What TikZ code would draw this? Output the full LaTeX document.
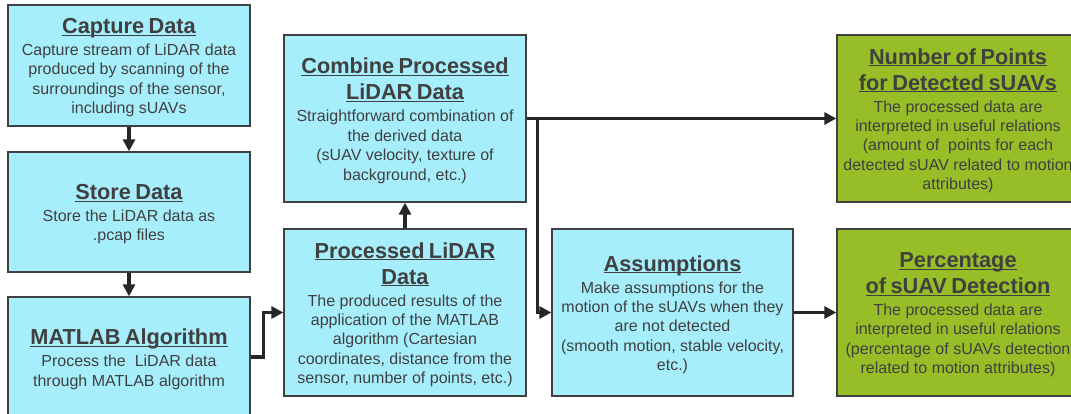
\documentclass[tikz,border=0pt]{standalone}
\usepackage{fontspec}
\setmainfont{Liberation Sans}
\usetikzlibrary{arrows.meta,calc}
\definecolor{boxcyan}{HTML}{A6EEFB}
\definecolor{boxgreen}{HTML}{97BD27}
\definecolor{ink}{HTML}{404040}
\definecolor{arrowc}{HTML}{262626}
\newcommand\hdl[1]{\leavevmode\setbox0=\hbox{#1}\rlap{\rule[-1.7pt]{\wd0}{0.9pt}}\box0}
\newcommand\hdfont{\fontsize{16.3}{19.5}\selectfont\bfseries}
\newcommand\bdfont{\fontsize{12}{14.6}\selectfont}
\newcommand\boxtext[2]{{\hdfont #1\par}\vspace{1.8pt}{\bdfont #2\par}\vspace{-3.5pt}}
\tikzset{
  flow/.style={draw=ink, line width=1pt, text=ink, align=center, text width=176pt,
    inner sep=2pt, minimum width=181.5pt},
  cyanbox/.style={flow, fill=boxcyan},
  greenbox/.style={flow, fill=boxgreen},
  arr/.style={draw=arrowc, line width=2.3pt, -{Triangle[length=9pt,width=9pt]}},
}
\begin{document}
\begin{tikzpicture}[x=0.75pt, y=-0.75pt]
\useasboundingbox (0,0) rectangle (1071,414);
\fill[white] (0,0) rectangle (1071,414);
\clip (0,0) rectangle (1071,414);

\node[cyanbox, minimum height=90.75pt] (A) at (129,65.5)
  {\boxtext{\hdl{Capture Data}}{Capture stream of LiDAR data\\produced by scanning of the\\surroundings of the sensor,\\including sUAVs}};
\node[cyanbox, minimum height=90pt] (B) at (129,212)
  {\boxtext{\hdl{Store Data}}{Store the LiDAR data as\\.pcap files}};
\node[cyanbox, minimum height=90pt] (C) at (129,357)
  {\boxtext{\hdl{MATLAB Algorithm}}{Process the\ \ LiDAR data\\through MATLAB algorithm}};
\node[cyanbox, minimum height=125.25pt] (E) at (405,118.5)
  {\boxtext{\hdl{Combine Processed}\\\hdl{LiDAR Data}}{Straightforward combination of\\the derived data\\(sUAV velocity, texture of\\background, etc.)}};
\node[cyanbox, minimum height=125.25pt] (D) at (405,312.5)
  {\boxtext{\hdl{Processed LiDAR}\\\hdl{Data}}{The produced results of the\\application of the MATLAB\\algorithm (Cartesian\\coordinates, distance from the\\sensor, number of points, etc.)}};
\node[cyanbox, minimum height=125.25pt, minimum width=180.75pt] (S) at (672.5,312.5)
  {\boxtext{\hdl{Assumptions}}{Make assumptions for the\\motion of the sUAVs when they\\are not detected\\(smooth motion, stable velocity,\\etc.)}};
\node[greenbox, minimum height=125.25pt] (N) at (958,118.5)
  {\boxtext{\hdl{Number of Points}\\\hdl{for Detected sUAVs}}{The processed data are\\interpreted in useful relations\\(amount of\ \ points for each\\detected sUAV related to motion\\attributes)}};
\node[greenbox, minimum height=125.25pt] (P) at (958,312.5)
  {\boxtext{\hdl{Percentage}\\\hdl{of sUAV Detection}}{The processed data are\\interpreted in useful relations\\(percentage of sUAVs detection\\related to motion attributes)}};

\coordinate (j) at ($(E.east)+(11,0)$);
\draw[arr] (A) -- (B);
\draw[arr] (B) -- (C);
\draw[arr] (C.east) -- ++(13,0) |- (D.west);
\draw[arr] (D) -- (E);
\draw[arr] (E.east) -- (N.west);
\draw[arr] (j) |- (S.west);
\draw[arr] (S) -- (P);
\end{tikzpicture}
\end{document}
